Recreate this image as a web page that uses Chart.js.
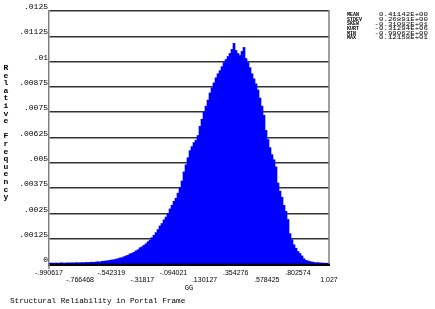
<!DOCTYPE html>
<html>
<head>
<meta charset="utf-8">
<script src="https://cdn.jsdelivr.net/npm/chart.js@4"></script>
<style>
html, body { margin: 0; padding: 0; background: #fff; }
</style>
</head>
<body>
<canvas id="c" width="435" height="309"></canvas>
<script>
// histogram range and bin heights (relative frequency)
const binStart = -0.990617;
const binEnd = 1.02672;
const freq = [
  .00004, .00005, .00003, .00005, .00004, .00005, .00006, .00004, .00005, .00006,
  .00005, .00006, .00005, .00007, .00006, .00006, .00007, .00006, .00008, .00007,
  .00008, .00009, .00008, .00010, .00011, .00010, .00013, .00014, .00015, .00016,
  .00018, .00020, .00021, .00024, .00026, .00030, .00031, .00036, .00040, .00043,
  .00050, .00053, .00058, .00065, .00070, .00080, .00085, .00092, .00100, .00110,
  .00118, .00130, .00142, .00155, .00170, .00188, .00200, .00218, .00232, .00250,
  .00272, .00290, .00310, .00325, .00350, .00375, .00410, .00455, .00490, .00525,
  .00560, .00580, .00600, .00612, .00635, .00680, .00715, .00750, .00780, .00810,
  .00845, .00870, .00895, .00920, .00940, .00955, .00975, .00995, .01010, .01025,
  .01040, .01060, .01090, .01055, .01040, .01030, .01050, .01070, .01015, .00995,
  .00970, .00940, .00915, .00890, .00860, .00820, .00780, .00735, .00660, .00615,
  .00575, .00540, .00515, .00480, .00400, .00360, .00330, .00290, .00260, .00220,
  .00150, .00120, .00095, .00078, .00062, .00052, .00040, .00026, .00018, .00015,
  .00012, .00010, .00008, .00006, .00007, .00005, .00005, .00004, .00004, .00004
];

const xTickValues = [-0.990617, -0.766468, -0.542319, -0.31817, -0.094021, 0.130127, 0.354276, 0.578425, 0.802574, 1.02672];
const xTickLabels = ['-.990617', '-.766468', '-.542319', '-.31817', '-.094021', '.130127', '.354276', '.578425', '.802574', '1.027'];
const yTickValues = [0, 0.00125, 0.0025, 0.00375, 0.005, 0.00625, 0.0075, 0.00875, 0.01, 0.01125, 0.0125];
const yTickLabels = ['0', '.00125', '.0025', '.00375', '.005', '.00625', '.0075', '.00875', '.01', '.01125', '.0125'];

const statNames = ['MEAN', 'STDEV', 'SKEW', 'KURT', 'MIN', 'MAX'];
const statValues = ['0.41142E+00', '0.26891E+00', '-0.31092E+01', '-0.31294E+06', '-0.99062E+00', '0.12158E+01'];

const yTitle = 'Relative Frequency';
const xTitle = 'GG';
const chartTitle = 'Structural Reliability in Portal Frame';

const binWidth = (binEnd - binStart) / freq.length;
const points = freq.map((v, i) => ({ x: binStart + (i + 0.5) * binWidth, y: v }));

// right frame line, stacked y title, bottom caption and stats block
const frame = {
  id: 'frame',
  afterDraw(chart) {
    const ctx = chart.ctx;
    const a = chart.chartArea;
    ctx.save();
    ctx.strokeStyle = '#808080';
    ctx.lineWidth = 1.5;
    ctx.beginPath();
    ctx.moveTo(a.right, a.top - 1);
    ctx.lineTo(a.right, a.bottom);
    ctx.moveTo(a.left, a.bottom);
    ctx.lineTo(a.left, a.bottom + 5);
    ctx.stroke();

    ctx.fillStyle = '#000';
    ctx.textAlign = 'center';
    ctx.textBaseline = 'middle';
    ctx.font = 'bold 8px "Liberation Mono"';
    yTitle.split('').forEach((ch, i) => ctx.fillText(ch, 6, 68 + i * 7.6));

    ctx.textAlign = 'left';
    ctx.font = '7.7px "Liberation Mono"';
    ctx.fillText(chartTitle, 10, 301);

    ctx.font = 'bold 5px "Liberation Mono"';
    statNames.forEach((s, i) => ctx.fillText(s, 347, 15 + i * 4.6));
    ctx.textAlign = 'right';
    ctx.font = '5.5px "Liberation Mono"';
    statValues.forEach((s, i) => {
      ctx.save();
      ctx.translate(428, 15 + i * 4.6);
      ctx.scale(1.35, 1);
      ctx.fillText(s, 0, 0);
      ctx.restore();
    });
    ctx.restore();
  }
};

new Chart(document.getElementById('c'), {
  type: 'bar',
  data: {
    datasets: [{
      data: points,
      backgroundColor: '#0000ff',
      borderWidth: 0,
      barPercentage: 1,
      categoryPercentage: 1
    }]
  },
  options: {
    responsive: false,
    animation: false,
    layout: { padding: { left: 0, right: 106, top: 11, bottom: 0 } },
    plugins: { legend: { display: false }, tooltip: { enabled: false } },
    scales: {
      x: {
        type: 'linear',
        min: binStart,
        max: binEnd,
        offset: false,
        grid: { display: false, drawTicks: false },
        border: { display: true, color: '#000', width: 3 },
        afterBuildTicks: s => { s.ticks = xTickValues.map(v => ({ value: v })); },
        afterFit: s => { s.height = 45; },
        ticks: {
          autoSkip: false,
          maxRotation: 0,
          padding: 5,
          color: '#000',
          font: { family: 'Liberation Sans', size: 7, lineHeight: 1.1 },
          callback: (v, i) => i % 2 ? ['', xTickLabels[i]] : xTickLabels[i]
        },
        title: {
          display: true,
          text: xTitle,
          color: '#000',
          font: { family: 'Liberation Mono', size: 7 },
          padding: { top: 0, bottom: 17 }
        }
      },
      y: {
        min: 0,
        max: 0.0125,
        afterBuildTicks: s => { s.ticks = yTickValues.map(v => ({ value: v })); },
        afterFit: s => { s.width = 49; },
        grid: { color: '#333', lineWidth: 1.5, drawTicks: false },
        border: { color: '#808080', width: 1.5 },
        ticks: {
          padding: 1,
          labelOffset: -4,
          color: '#000',
          font: { family: 'Liberation Mono', size: 8 },
          callback: (v, i) => yTickLabels[i]
        }
      }
    }
  },
  plugins: [frame]
});
</script>
</body>
</html>
